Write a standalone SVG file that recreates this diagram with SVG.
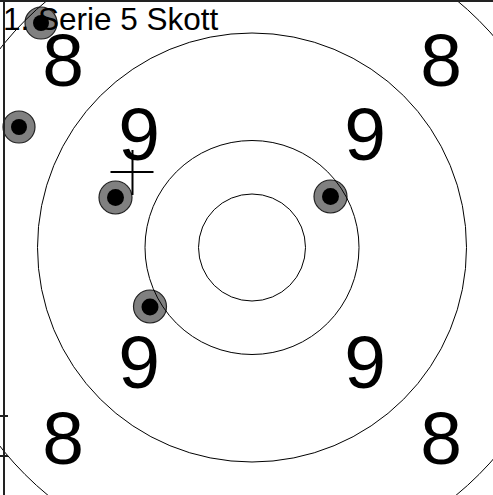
<svg xmlns="http://www.w3.org/2000/svg" width="493" height="495" viewBox="0 0 493 495">
<style>
.ring{fill:none;stroke:#000;stroke-width:1}
.shot{fill:#808080;stroke:#222;stroke-width:1.2}
.hole{fill:#000}
.num{font-family:"Liberation Sans",Arial,sans-serif;font-size:75px;fill:#000;text-anchor:middle}
.title{font-family:"Liberation Sans",Arial,sans-serif;font-size:31.5px;fill:#000}
.frame{stroke:#222;stroke-width:2;fill:none}
</style>
<rect width="493" height="495" fill="#fff"/>
<g id="shots">
<g id="shot1"><circle class="shot" cx="41" cy="23" r="16"/><circle class="hole" cx="41" cy="23" r="8"/></g>
<g id="shot2"><circle class="shot" cx="19" cy="127" r="16"/><circle class="hole" cx="19" cy="127" r="8"/></g>
<g id="shot3"><circle class="shot" cx="115.5" cy="197.5" r="16.5"/><circle class="hole" cx="115.5" cy="197.5" r="8.5"/></g>
<g id="shot4"><circle class="shot" cx="330.5" cy="196.5" r="16.5"/><circle class="hole" cx="330.5" cy="196.5" r="8.5"/></g>
<g id="shot5"><circle class="shot" cx="150" cy="306.5" r="16.5"/><circle class="hole" cx="150" cy="307" r="8.5"/></g>
</g>
<g id="rings">
<circle class="ring" cx="252" cy="247.5" r="321"/>
<circle class="ring" cx="252" cy="247.5" r="214.5"/>
<circle class="ring" cx="252" cy="247.5" r="107"/>
<circle class="ring" cx="252" cy="247.5" r="53.5"/>
</g>
<g id="frame">
<line class="frame" x1="0" y1="1" x2="493" y2="1"/>
<line class="frame" x1="4" y1="0" x2="4" y2="495"/>
<line class="frame" x1="0" y1="416" x2="8" y2="416"/>
<line class="frame" x1="0" y1="456" x2="8" y2="456"/>
</g>
<g id="labels">
<text class="num" x="63" y="86">8</text>
<text class="num" x="441" y="86">8</text>
<text class="num" x="63" y="464">8</text>
<text class="num" x="441" y="464">8</text>
<text class="num" x="139" y="160">9</text>
<text class="num" x="365" y="160">9</text>
<text class="num" x="139" y="388">9</text>
<text class="num" x="365" y="388">9</text>
</g>
<g id="title"><text class="title" x="3" y="30">1. Serie 5 Skott</text></g>
<g id="crosshair">
<line x1="110.5" y1="172" x2="153.5" y2="172" stroke="#000" stroke-width="2"/>
<line x1="132.5" y1="150" x2="132.5" y2="195" stroke="#000" stroke-width="2"/>
</g>
</svg>
